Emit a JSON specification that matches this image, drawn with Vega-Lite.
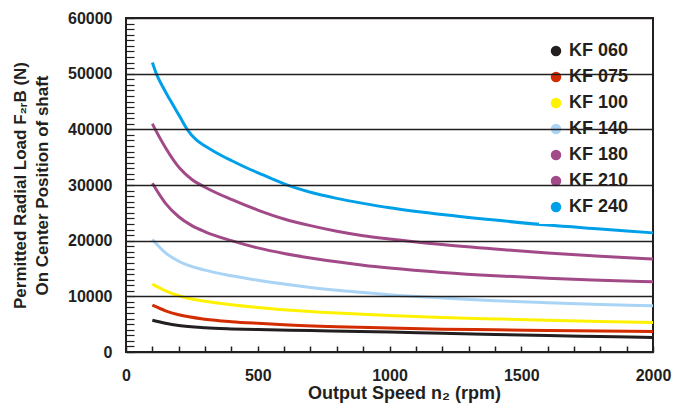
{
  "$schema": "https://vega.github.io/schema/vega-lite/v6.json",
  "width": 527,
  "height": 334,
  "autosize": {"type": "none"},
  "padding": {"left": 126, "top": 18, "right": 20, "bottom": 55},
  "background": "white",
  "config": {
    "view": {"stroke": "#231f20", "strokeWidth": 2},
    "font": "Liberation Sans",
    "axis": {
      "labelFont": "Liberation Sans",
      "titleFont": "Liberation Sans",
      "labelColor": "#231f20",
      "titleColor": "#231f20",
      "tickColor": "#231f20",
      "domainColor": "#231f20"
    }
  },
  "data": {
    "values": [
      {"model": "KF 240", "rpm": 100, "load": 52000},
      {"model": "KF 240", "rpm": 115, "load": 50000},
      {"model": "KF 240", "rpm": 140, "load": 47600},
      {"model": "KF 240", "rpm": 166, "load": 45400},
      {"model": "KF 240", "rpm": 204, "load": 42300},
      {"model": "KF 240", "rpm": 232, "load": 40000},
      {"model": "KF 240", "rpm": 267, "load": 38100},
      {"model": "KF 240", "rpm": 300, "load": 37000},
      {"model": "KF 240", "rpm": 343, "load": 35800},
      {"model": "KF 240", "rpm": 400, "load": 34400},
      {"model": "KF 240", "rpm": 457, "load": 33100},
      {"model": "KF 240", "rpm": 520, "load": 31800},
      {"model": "KF 240", "rpm": 600, "load": 30200},
      {"model": "KF 240", "rpm": 700, "load": 28700},
      {"model": "KF 240", "rpm": 800, "load": 27600},
      {"model": "KF 240", "rpm": 900, "load": 26700},
      {"model": "KF 240", "rpm": 1000, "load": 25900},
      {"model": "KF 240", "rpm": 1200, "load": 24700},
      {"model": "KF 240", "rpm": 1400, "load": 23700},
      {"model": "KF 240", "rpm": 1600, "load": 22800},
      {"model": "KF 240", "rpm": 1800, "load": 22100},
      {"model": "KF 240", "rpm": 2000, "load": 21400},
      {"model": "KF 210", "rpm": 100, "load": 41000},
      {"model": "KF 210", "rpm": 111, "load": 40000},
      {"model": "KF 210", "rpm": 150, "load": 36700},
      {"model": "KF 210", "rpm": 204, "load": 33000},
      {"model": "KF 210", "rpm": 250, "load": 31000},
      {"model": "KF 210", "rpm": 300, "load": 29600},
      {"model": "KF 210", "rpm": 400, "load": 27400},
      {"model": "KF 210", "rpm": 500, "load": 25500},
      {"model": "KF 210", "rpm": 600, "load": 23900},
      {"model": "KF 210", "rpm": 700, "load": 22700},
      {"model": "KF 210", "rpm": 800, "load": 21700},
      {"model": "KF 210", "rpm": 900, "load": 20900},
      {"model": "KF 210", "rpm": 1000, "load": 20300},
      {"model": "KF 210", "rpm": 1200, "load": 19300},
      {"model": "KF 210", "rpm": 1400, "load": 18500},
      {"model": "KF 210", "rpm": 1600, "load": 17800},
      {"model": "KF 210", "rpm": 1800, "load": 17200},
      {"model": "KF 210", "rpm": 2000, "load": 16700},
      {"model": "KF 180", "rpm": 100, "load": 30300},
      {"model": "KF 180", "rpm": 150, "load": 26700},
      {"model": "KF 180", "rpm": 200, "load": 24300},
      {"model": "KF 180", "rpm": 250, "load": 22700},
      {"model": "KF 180", "rpm": 300, "load": 21600},
      {"model": "KF 180", "rpm": 400, "load": 20000},
      {"model": "KF 180", "rpm": 500, "load": 18700},
      {"model": "KF 180", "rpm": 600, "load": 17700},
      {"model": "KF 180", "rpm": 700, "load": 16900},
      {"model": "KF 180", "rpm": 800, "load": 16200},
      {"model": "KF 180", "rpm": 900, "load": 15600},
      {"model": "KF 180", "rpm": 1000, "load": 15100},
      {"model": "KF 180", "rpm": 1200, "load": 14300},
      {"model": "KF 180", "rpm": 1400, "load": 13700},
      {"model": "KF 180", "rpm": 1600, "load": 13250},
      {"model": "KF 180", "rpm": 1800, "load": 12900},
      {"model": "KF 180", "rpm": 2000, "load": 12600},
      {"model": "KF 140", "rpm": 100, "load": 20200},
      {"model": "KF 140", "rpm": 150, "load": 17800},
      {"model": "KF 140", "rpm": 200, "load": 16300},
      {"model": "KF 140", "rpm": 300, "load": 14700},
      {"model": "KF 140", "rpm": 400, "load": 13700},
      {"model": "KF 140", "rpm": 500, "load": 12900},
      {"model": "KF 140", "rpm": 600, "load": 12200},
      {"model": "KF 140", "rpm": 700, "load": 11600},
      {"model": "KF 140", "rpm": 800, "load": 11100},
      {"model": "KF 140", "rpm": 900, "load": 10700},
      {"model": "KF 140", "rpm": 1000, "load": 10300},
      {"model": "KF 140", "rpm": 1200, "load": 9700},
      {"model": "KF 140", "rpm": 1400, "load": 9200},
      {"model": "KF 140", "rpm": 1600, "load": 8850},
      {"model": "KF 140", "rpm": 1800, "load": 8550},
      {"model": "KF 140", "rpm": 2000, "load": 8300},
      {"model": "KF 100", "rpm": 100, "load": 12200},
      {"model": "KF 100", "rpm": 150, "load": 11000},
      {"model": "KF 100", "rpm": 200, "load": 10100},
      {"model": "KF 100", "rpm": 300, "load": 9100},
      {"model": "KF 100", "rpm": 400, "load": 8500},
      {"model": "KF 100", "rpm": 500, "load": 8000},
      {"model": "KF 100", "rpm": 600, "load": 7600},
      {"model": "KF 100", "rpm": 800, "load": 7000},
      {"model": "KF 100", "rpm": 1000, "load": 6550},
      {"model": "KF 100", "rpm": 1200, "load": 6200},
      {"model": "KF 100", "rpm": 1400, "load": 5950},
      {"model": "KF 100", "rpm": 1600, "load": 5700},
      {"model": "KF 100", "rpm": 1800, "load": 5500},
      {"model": "KF 100", "rpm": 2000, "load": 5300},
      {"model": "KF 075", "rpm": 100, "load": 8400},
      {"model": "KF 075", "rpm": 150, "load": 7400},
      {"model": "KF 075", "rpm": 200, "load": 6700},
      {"model": "KF 075", "rpm": 300, "load": 5900},
      {"model": "KF 075", "rpm": 400, "load": 5450},
      {"model": "KF 075", "rpm": 500, "load": 5150},
      {"model": "KF 075", "rpm": 600, "load": 4900},
      {"model": "KF 075", "rpm": 800, "load": 4550},
      {"model": "KF 075", "rpm": 1000, "load": 4300},
      {"model": "KF 075", "rpm": 1200, "load": 4100},
      {"model": "KF 075", "rpm": 1400, "load": 3980},
      {"model": "KF 075", "rpm": 1600, "load": 3870},
      {"model": "KF 075", "rpm": 1800, "load": 3780},
      {"model": "KF 075", "rpm": 2000, "load": 3700},
      {"model": "KF 060", "rpm": 100, "load": 5700},
      {"model": "KF 060", "rpm": 150, "load": 5150},
      {"model": "KF 060", "rpm": 200, "load": 4750},
      {"model": "KF 060", "rpm": 300, "load": 4350},
      {"model": "KF 060", "rpm": 400, "load": 4150},
      {"model": "KF 060", "rpm": 500, "load": 4020},
      {"model": "KF 060", "rpm": 700, "load": 3850},
      {"model": "KF 060", "rpm": 1000, "load": 3580},
      {"model": "KF 060", "rpm": 1200, "load": 3350},
      {"model": "KF 060", "rpm": 1400, "load": 3150},
      {"model": "KF 060", "rpm": 1600, "load": 2950},
      {"model": "KF 060", "rpm": 1800, "load": 2780},
      {"model": "KF 060", "rpm": 2000, "load": 2620}
    ]
  },
  "mark": {"type": "line", "strokeWidth": 3, "interpolate": "monotone"},
  "encoding": {
    "x": {
      "field": "rpm", "type": "quantitative",
      "scale": {"domain": [0, 2000], "nice": false, "zero": false},
      "axis": {
        "orient": "bottom", "offset": -6, "zindex": 1,
        "values": [0, 100, 200, 300, 400, 500, 600, 700, 800, 900, 1000, 1100, 1200, 1300, 1400, 1500, 1600, 1700, 1800, 1900, 2000],
        "format": "d",
        "labelExpr": "datum.value % 500 === 0 ? datum.label : ''",
        "labelOverlap": false, "labelFlush": false,
        "labelFontSize": 16, "labelFontWeight": "bold", "labelPadding": 15,
        "ticks": true, "tickSize": 6, "tickWidth": 1.5, "tickOpacity": 1,
        "domain": false, "grid": false,
        "title": "Output Speed n₂  (rpm)",
        "titleFontSize": 18, "titleFontWeight": "bold", "titlePadding": 1,
        "titleX": 278
      }
    },
    "y": {
      "field": "load", "type": "quantitative",
      "scale": {"domain": [0, 60000], "nice": false, "zero": false},
      "axis": {
        "orient": "left", "offset": -8, "zindex": 1,
        "values": [0, 1000, 2000, 3000, 4000, 5000, 6000, 7000, 8000, 9000, 10000, 11000, 12000, 13000, 14000, 15000, 16000, 17000, 18000, 19000, 20000, 21000, 22000, 23000, 24000, 25000, 26000, 27000, 28000, 29000, 30000, 31000, 32000, 33000, 34000, 35000, 36000, 37000, 38000, 39000, 40000, 41000, 42000, 43000, 44000, 45000, 46000, 47000, 48000, 49000, 50000, 51000, 52000, 53000, 54000, 55000, 56000, 57000, 58000, 59000, 60000],
        "format": "d",
        "labelExpr": "datum.value % 10000 === 0 ? datum.label : ''",
        "labelOverlap": false, "labelFlush": false,
        "labelFontSize": 16, "labelFontWeight": "bold", "labelPadding": 14,
        "ticks": true, "tickSize": 8, "tickWidth": 1.2, "tickOpacity": 1,
        "domain": false,
        "grid": true, "gridColor": "#231f20", "gridWidth": 1.5,
        "gridOpacity": {"condition": {"test": "datum.value % 10000 === 0", "value": 1}, "value": 0},
        "title": ["Permitted Radial Load F₂ᵣB (N)", "On Center Position of shaft"],
        "titleFontSize": 17, "titleFontWeight": "bold", "titlePadding": 16,
        "titleLineHeight": 22
      }
    },
    "color": {
      "field": "model", "type": "nominal",
      "scale": {
        "domain": ["KF 060", "KF 075", "KF 100", "KF 140", "KF 180", "KF 210", "KF 240"],
        "range": ["#231f20", "#d22c00", "#fff200", "#a9d4f5", "#a24a87", "#a24a87", "#00a0e9"]
      },
      "legend": {
        "orient": "none", "legendX": 413, "legendY": 16,
        "title": null,
        "fillColor": "white", "padding": 8,
        "symbolType": "circle", "symbolSize": 110, "symbolStrokeWidth": 0,
        "labelFontSize": 18, "labelFontWeight": "bold", "labelColor": "#231f20",
        "labelFont": "Liberation Sans", "labelOffset": 4,
        "rowPadding": 8,
        "encode": {
          "symbols": {"update": {"fill": {"scale": "color", "field": "value"}, "opacity": {"value": 1}}}
        }
      }
    }
  }
}
